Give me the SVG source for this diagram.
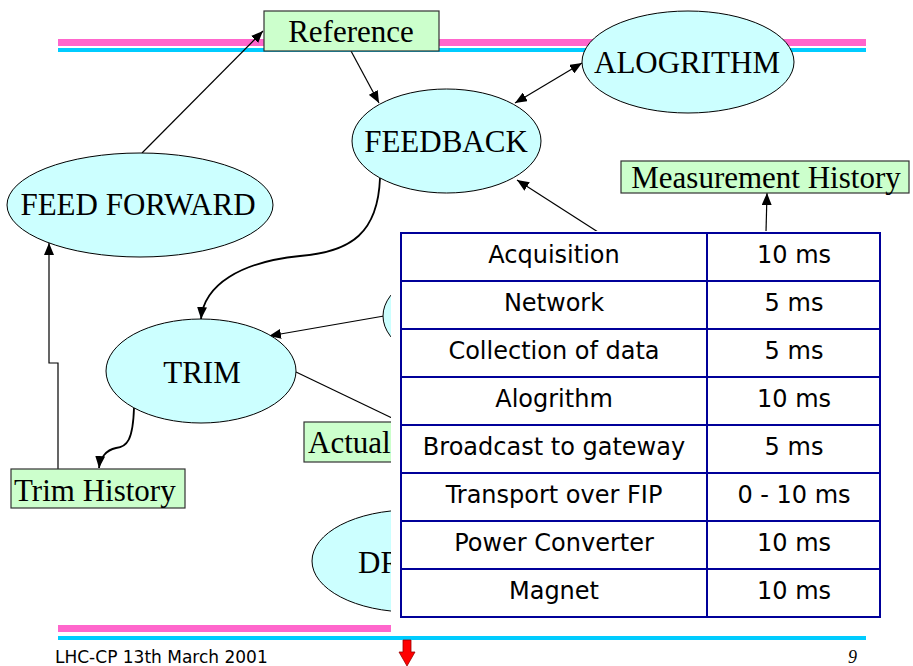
<svg xmlns="http://www.w3.org/2000/svg" width="913" height="666" viewBox="0 0 913 666">
<style>
.ell{fill:#CCFFFF;stroke:#000;stroke-width:1}
.box{fill:#CCFFCC;stroke:#333;stroke-width:1.2}
.lbl{font-family:"Liberation Serif","Times New Roman",serif;font-size:31px;fill:#000}
.con{fill:none;stroke:#000;stroke-width:1.2}
.curve{fill:none;stroke:#000;stroke-width:1.8}
.tbl{font-family:"DejaVu Sans",sans-serif;font-size:24px;fill:#000;text-anchor:middle}
.grid{stroke:#000099;stroke-width:2;fill:none}
</style>
<defs>
<marker id="ah" markerUnits="userSpaceOnUse" markerWidth="12" markerHeight="10" refX="12" refY="5" orient="auto-start-reverse" viewBox="0 0 12 10">
<path d="M0,0 L12,5 L0,10 z" fill="#000"/>
</marker>
</defs>
<rect width="913" height="666" fill="#fff"/>
<!-- header bars -->
<rect x="58" y="39" width="808" height="7" fill="#FF66CC"/>
<rect x="58" y="48" width="808" height="4" fill="#00CCFF"/>
<g id="connectors">
<line class="con" x1="142" y1="153" x2="263" y2="31" marker-end="url(#ah)"/>
<line class="con" x1="351" y1="51" x2="379" y2="103" marker-end="url(#ah)"/>
<line class="con" x1="515" y1="103" x2="582" y2="63" marker-start="url(#ah)" marker-end="url(#ah)"/>
<line class="con" x1="598" y1="232" x2="517" y2="180" marker-end="url(#ah)"/>
<line class="con" x1="766" y1="232" x2="767" y2="193" marker-end="url(#ah)"/>
<path class="curve" d="M380,178 C378,232 352,252 300,256 C240,262 204,285 201,319" marker-end="url(#ah)"/>
<line class="con" x1="384" y1="316" x2="269" y2="336" marker-end="url(#ah)"/>
<line class="con" x1="296" y1="372" x2="392" y2="418"/>
<path class="curve" d="M134,408 C133,440 127,447 116,448 C106,450 100,458 99,468" marker-end="url(#ah)"/>
<polyline class="con" points="58,469 58,363 49,363 49,243" marker-end="url(#ah)"/>
</g>
<g id="node-reference">
<rect class="box" x="264" y="11" width="175" height="40"/>
<text class="lbl" x="351" y="42" text-anchor="middle">Reference</text>
</g>
<g id="node-alogrithm">
<ellipse class="ell" cx="688" cy="62" rx="106" ry="51"/>
<text class="lbl" x="687" y="73" text-anchor="middle">ALOGRITHM</text>
</g>
<g id="node-feedback">
<ellipse class="ell" cx="446.5" cy="141" rx="94.5" ry="52"/>
<text class="lbl" x="446" y="152" text-anchor="middle">FEEDBACK</text>
</g>
<g id="node-measurement-history">
<rect class="box" x="621" y="161" width="288" height="32"/>
<text class="lbl" x="766" y="188" text-anchor="middle">Measurement History</text>
</g>
<g id="node-feed-forward">
<ellipse class="ell" cx="140" cy="205" rx="133" ry="52"/>
<text class="lbl" x="138" y="215" text-anchor="middle">FEED FORWARD</text>
</g>
<g id="node-trim">
<ellipse class="ell" cx="201" cy="371" rx="95" ry="52"/>
<text class="lbl" x="202" y="383" text-anchor="middle">TRIM</text>
</g>
<g id="node-hidden">
<ellipse class="ell" cx="478" cy="316" rx="95" ry="52"/>
</g>
<g id="node-actual">
<rect class="box" x="304" y="422" width="160" height="40"/>
<text class="lbl" x="308" y="453">Actual</text>
</g>
<g id="node-trim-history">
<rect class="box" x="11" y="469" width="174" height="39"/>
<text class="lbl" x="14" y="501">Trim History</text>
</g>
<g id="node-dr">
<ellipse class="ell" cx="410" cy="561" rx="98" ry="51"/>
<text class="lbl" x="358" y="573">DR</text>
</g>
<!-- bottom pink bar -->
<rect x="58" y="625" width="808" height="7" fill="#FF66CC"/>
<!-- table overlay -->
<rect x="391" y="231" width="494" height="403" fill="#fff"/>
<g id="timing-table">
<rect class="grid" x="401" y="233" width="479" height="384"/>
<line class="grid" x1="707" y1="233" x2="707" y2="617"/>
<line class="grid" x1="401" y1="281" x2="880" y2="281"/>
<line class="grid" x1="401" y1="329" x2="880" y2="329"/>
<line class="grid" x1="401" y1="377" x2="880" y2="377"/>
<line class="grid" x1="401" y1="425" x2="880" y2="425"/>
<line class="grid" x1="401" y1="473" x2="880" y2="473"/>
<line class="grid" x1="401" y1="521" x2="880" y2="521"/>
<line class="grid" x1="401" y1="569" x2="880" y2="569"/>
<text class="tbl" x="554" y="263">Acquisition</text>
<text class="tbl" x="554" y="311">Network</text>
<text class="tbl" x="554" y="359">Collection of data</text>
<text class="tbl" x="554" y="407">Alogrithm</text>
<text class="tbl" x="554" y="455">Broadcast to gateway</text>
<text class="tbl" x="554" y="503">Transport over FIP</text>
<text class="tbl" x="554" y="551">Power Converter</text>
<text class="tbl" x="554" y="599">Magnet</text>
<text class="tbl" x="794" y="263">10 ms</text>
<text class="tbl" x="794" y="311">5 ms</text>
<text class="tbl" x="794" y="359">5 ms</text>
<text class="tbl" x="794" y="407">10 ms</text>
<text class="tbl" x="794" y="455">5 ms</text>
<text class="tbl" x="794" y="503">0 - 10 ms</text>
<text class="tbl" x="794" y="551">10 ms</text>
<text class="tbl" x="794" y="599">10 ms</text>
</g>
<!-- footer -->
<rect x="58" y="636" width="808" height="4" fill="#00CCFF"/>
<path d="M403,640 L411,640 L411,652 L415,652 L407,666 L399,652 L403,652 z" fill="#FF0000" stroke="#990000" stroke-width="0.8"/>
<text x="55" y="663" font-family="DejaVu Sans,sans-serif" font-size="17" fill="#000">LHC-CP 13th March 2001</text>
<text x="848" y="663" font-family="Liberation Serif,serif" font-style="italic" font-size="18" fill="#000">9</text>
</svg>
